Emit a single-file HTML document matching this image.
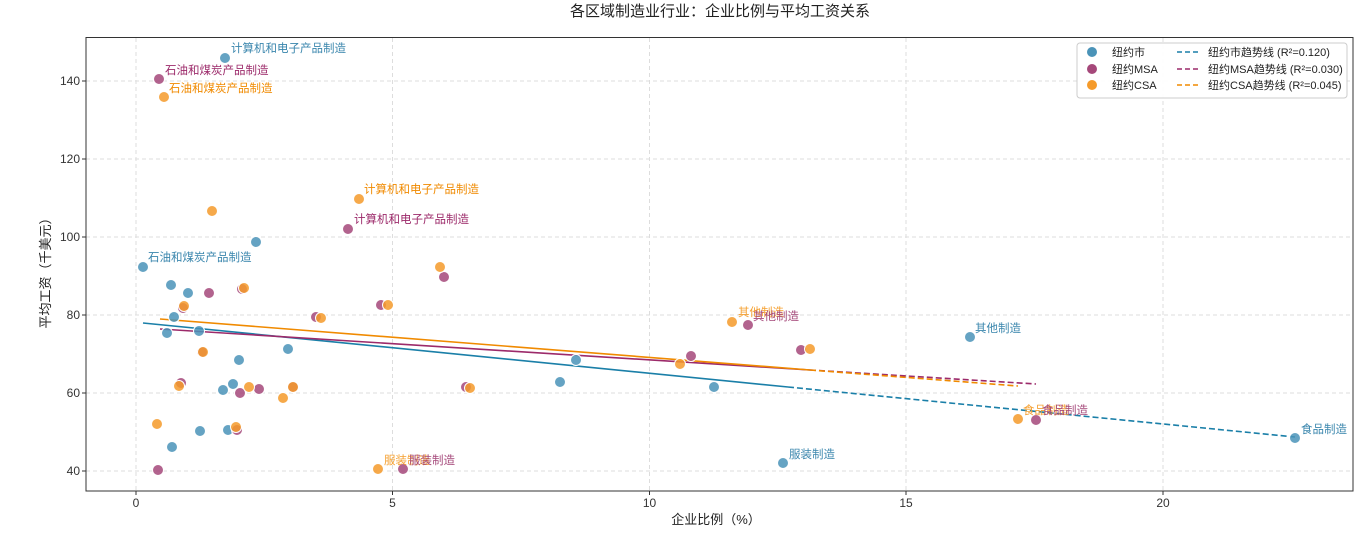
<!DOCTYPE html>
<html><head><meta charset="utf-8"><style>
body{margin:0;background:#fff;}
svg text{font-family:"Liberation Sans","Noto Sans CJK SC",sans-serif;}
</style></head><body>
<svg width="1354" height="532" xmlns="http://www.w3.org/2000/svg">
<rect width="1354" height="532" fill="#fff"/>
<text x="720" y="16" font-size="15" text-anchor="middle" fill="#222">各区域制造业行业：企业比例与平均工资关系</text>
<g stroke="#ddd" stroke-dasharray="4,3" stroke-width="1">
<line x1="136" y1="38" x2="136" y2="491"/><line x1="392.5" y1="38" x2="392.5" y2="491"/><line x1="649.5" y1="38" x2="649.5" y2="491"/><line x1="906" y1="38" x2="906" y2="491"/><line x1="1163" y1="38" x2="1163" y2="491"/>
<line x1="86" y1="81" x2="1353" y2="81"/><line x1="86" y1="159" x2="1353" y2="159"/><line x1="86" y1="237" x2="1353" y2="237"/><line x1="86" y1="315" x2="1353" y2="315"/><line x1="86" y1="393" x2="1353" y2="393"/><line x1="86" y1="471" x2="1353" y2="471"/>
</g>
<rect x="86" y="37.5" width="1267" height="453.5" fill="none" stroke="#333" stroke-width="1"/>
<g font-size="12" fill="#333" text-anchor="middle">
<text x="136" y="507">0</text><text x="392.5" y="507">5</text><text x="649.5" y="507">10</text><text x="906" y="507">15</text><text x="1163" y="507">20</text>
</g>
<g font-size="12" fill="#333" text-anchor="end">
<text x="80" y="85">140</text><text x="80" y="163">120</text><text x="80" y="241">100</text><text x="80" y="319">80</text><text x="80" y="397">60</text><text x="80" y="475">40</text>
</g>
<g stroke="#333"><line x1="136" y1="491" x2="136" y2="495"/><line x1="392.5" y1="491" x2="392.5" y2="495"/><line x1="649.5" y1="491" x2="649.5" y2="495"/><line x1="906" y1="491" x2="906" y2="495"/><line x1="1163" y1="491" x2="1163" y2="495"/>
<line x1="82" y1="81" x2="86" y2="81"/><line x1="82" y1="159" x2="86" y2="159"/><line x1="82" y1="237" x2="86" y2="237"/><line x1="82" y1="315" x2="86" y2="315"/><line x1="82" y1="393" x2="86" y2="393"/><line x1="82" y1="471" x2="86" y2="471"/></g>
<text x="716" y="524" font-size="13" text-anchor="middle" fill="#222">企业比例（%）</text>
<text x="50" y="270" font-size="13" text-anchor="middle" fill="#222" transform="rotate(-90 50 270)">平均工资（千美元）</text>
<!-- trend lines -->
<line x1="143" y1="323" x2="788" y2="387" stroke="#1a7fa8" stroke-width="1.6"/>
<line x1="788" y1="387" x2="1295" y2="437" stroke="#1a7fa8" stroke-width="1.6" stroke-dasharray="6,3"/>
<line x1="160" y1="329" x2="810" y2="370" stroke="#9c2a6a" stroke-width="1.6"/>
<line x1="810" y1="370" x2="1036" y2="384" stroke="#9c2a6a" stroke-width="1.6" stroke-dasharray="6,3"/>
<line x1="160" y1="319" x2="810" y2="370" stroke="#f08a00" stroke-width="1.6"/>
<line x1="810" y1="370" x2="1018" y2="386" stroke="#f08a00" stroke-width="1.6" stroke-dasharray="6,3"/>
<g fill="#4a93b8" fill-opacity="0.85" stroke="#fff" stroke-width="1">
<circle cx="225" cy="58" r="5.5"/><circle cx="256" cy="242" r="5.5"/><circle cx="143" cy="267" r="5.5"/><circle cx="171" cy="285" r="5.5"/><circle cx="188" cy="293" r="5.5"/><circle cx="174" cy="317" r="5.5"/><circle cx="167" cy="333" r="5.5"/><circle cx="199" cy="331" r="5.5"/><circle cx="288" cy="349" r="5.5"/><circle cx="239" cy="360" r="5.5"/><circle cx="233" cy="384" r="5.5"/><circle cx="223" cy="390" r="5.5"/><circle cx="200" cy="431" r="5.5"/><circle cx="228" cy="430" r="5.5"/><circle cx="172" cy="447" r="5.5"/><circle cx="560" cy="382" r="5.5"/><circle cx="576" cy="360" r="5.5"/><circle cx="714" cy="387" r="5.5"/><circle cx="783" cy="463" r="5.5"/><circle cx="970" cy="337" r="5.5"/><circle cx="1295" cy="438" r="5.5"/>
</g>
<g fill="#a5487a" fill-opacity="0.85" stroke="#fff" stroke-width="1">
<circle cx="159" cy="79" r="5.5"/><circle cx="348" cy="229" r="5.5"/><circle cx="444" cy="277" r="5.5"/><circle cx="209" cy="293" r="5.5"/><circle cx="242" cy="289" r="5.5"/><circle cx="183" cy="308" r="5.5"/><circle cx="381" cy="305" r="5.5"/><circle cx="316" cy="317" r="5.5"/><circle cx="181" cy="383" r="5.5"/><circle cx="240" cy="393" r="5.5"/><circle cx="259" cy="389" r="5.5"/><circle cx="237" cy="430" r="5.5"/><circle cx="158" cy="470" r="5.5"/><circle cx="403" cy="469" r="5.5"/><circle cx="466" cy="387" r="5.5"/><circle cx="691" cy="356" r="5.5"/><circle cx="748" cy="325" r="5.5"/><circle cx="801" cy="350" r="5.5"/><circle cx="1036" cy="420" r="5.5"/><circle cx="202" cy="352" r="5.5"/><circle cx="293" cy="387" r="5.5"/>
</g>
<g fill="#f59a2a" fill-opacity="0.85" stroke="#fff" stroke-width="1">
<circle cx="164" cy="97" r="5.5"/><circle cx="212" cy="211" r="5.5"/><circle cx="359" cy="199" r="5.5"/><circle cx="440" cy="267" r="5.5"/><circle cx="244" cy="288" r="5.5"/><circle cx="184" cy="306" r="5.5"/><circle cx="388" cy="305" r="5.5"/><circle cx="321" cy="318" r="5.5"/><circle cx="203" cy="352" r="5.5"/><circle cx="179" cy="386" r="5.5"/><circle cx="249" cy="387" r="5.5"/><circle cx="293" cy="387" r="5.5"/><circle cx="283" cy="398" r="5.5"/><circle cx="157" cy="424" r="5.5"/><circle cx="236" cy="427" r="5.5"/><circle cx="378" cy="469" r="5.5"/><circle cx="470" cy="388" r="5.5"/><circle cx="680" cy="364" r="5.5"/><circle cx="732" cy="322" r="5.5"/><circle cx="810" cy="349" r="5.5"/><circle cx="1018" cy="419" r="5.5"/>
</g>
<g font-size="11.5">
<text x="231" y="52" fill="#3a86ad">计算机和电子产品制造</text>
<text x="165" y="74" fill="#9c2a6a">石油和煤炭产品制造</text>
<text x="169" y="92" fill="#f08a00">石油和煤炭产品制造</text>
<text x="364" y="193" fill="#f08a00">计算机和电子产品制造</text>
<text x="354" y="223" fill="#9c2a6a">计算机和电子产品制造</text>
<text x="148" y="261" fill="#3a86ad">石油和煤炭产品制造</text>
<text x="738" y="316" fill="#f5a030">其他制造</text>
<text x="753" y="320" fill="#a5487a">其他制造</text>
<text x="975" y="332" fill="#3a86ad">其他制造</text>
<text x="789" y="458" fill="#3a86ad">服装制造</text>
<text x="384" y="464" fill="#f5a030">服装制造</text>
<text x="409" y="464" fill="#a5487a">服装制造</text>
<text x="1023" y="414" fill="#f5a030">食品制造</text>
<text x="1042" y="414" fill="#a5487a">食品制造</text>
<text x="1301" y="433" fill="#3a86ad">食品制造</text>
</g>
<rect x="1077" y="43" width="270" height="55" rx="3" fill="#fff" fill-opacity="0.9" stroke="#ccc"/>
<circle cx="1092" cy="52" r="5" fill="#4a93b8"/><circle cx="1092" cy="69" r="5" fill="#a5487a"/><circle cx="1092" cy="85" r="5" fill="#f59a2a"/>
<g font-size="11" fill="#222">
<text x="1112" y="56">纽约市</text><text x="1112" y="73">纽约MSA</text><text x="1112" y="89">纽约CSA</text>
<text x="1208" y="56">纽约市趋势线 (R²=0.120)</text><text x="1208" y="73">纽约MSA趋势线 (R²=0.030)</text><text x="1208" y="89">纽约CSA趋势线 (R²=0.045)</text>
</g>
<line x1="1177" y1="52" x2="1200" y2="52" stroke="#1a7fa8" stroke-width="1.6" stroke-dasharray="5,3"/>
<line x1="1177" y1="69" x2="1200" y2="69" stroke="#9c2a6a" stroke-width="1.6" stroke-dasharray="5,3"/>
<line x1="1177" y1="85" x2="1200" y2="85" stroke="#f08a00" stroke-width="1.6" stroke-dasharray="5,3"/>
</svg>
</body></html>
